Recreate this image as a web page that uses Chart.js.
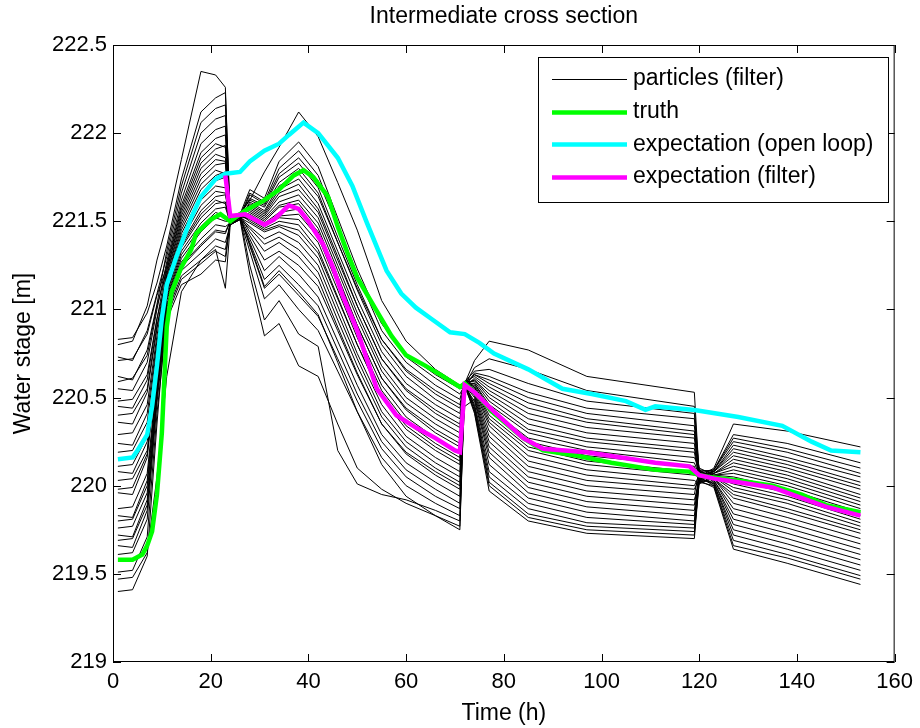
<!DOCTYPE html>
<html>
<head>
<meta charset="utf-8">
<title>Intermediate cross section</title>
<script src="https://cdn.jsdelivr.net/npm/chart.js@4.4.1/dist/chart.umd.min.js"></script>
<style>
  html, body { margin: 0; padding: 0; background: #fff; }
  canvas { display: block; }
</style>
</head>
<body>
<canvas id="chart" width="920" height="728"></canvas>
<script>
// ---- data ----
const chartTitle = 'Intermediate cross section';
const xTicks = [0, 20, 40, 60, 80, 100, 120, 140, 160];
const yTicks = [219, 219.5, 220, 220.5, 221, 221.5, 222, 222.5];
const seriesNames = ['particles (filter)', 'truth', 'expectation (open loop)', 'expectation (filter)'];

// particle trajectories, split at the filter updates (t = 23, 71, 119)
const riseTimes = [1, 4, 7, 9, 11, 14, 18, 21, 23];
const secondTimes = [24, 26, 28, 31, 34, 38, 42, 46, 50, 55, 60, 66, 71];
const thirdTimes = [72, 74, 77, 85, 97, 119];
const lastTimes = [120, 123, 127, 138, 153];

const riseParticles = [
  [220.83, 220.84, 220.98, 221.15, 221.36, 221.74, 222.12, 222.20, 222.23],
  [220.80, 220.82, 221.02, 221.28, 221.48, 221.85, 222.35, 222.33, 222.26],
  [220.73, 220.71, 220.88, 221.09, 221.30, 221.66, 222.00, 222.08, 222.10],
  [220.71, 220.72, 220.86, 221.08, 221.24, 221.57, 221.86, 221.94, 221.92],
  [220.62, 220.60, 220.77, 221.03, 221.33, 221.70, 222.06, 222.14, 222.16],
  [220.59, 220.61, 220.74, 221.02, 221.22, 221.53, 221.80, 221.88, 221.86],
  [220.55, 220.54, 220.70, 221.00, 221.27, 221.62, 221.94, 222.02, 222.04],
  [220.48, 220.49, 220.63, 220.95, 221.17, 221.47, 221.71, 221.79, 221.77],
  [220.45, 220.44, 220.60, 220.94, 221.25, 221.59, 221.89, 221.97, 221.99],
  [220.40, 220.41, 220.55, 220.91, 221.13, 221.41, 221.62, 221.70, 221.69],
  [220.36, 220.35, 220.53, 220.89, 221.22, 221.55, 221.83, 221.91, 221.93],
  [220.29, 220.30, 220.46, 220.85, 221.20, 221.51, 221.77, 221.85, 221.84],
  [220.24, 220.23, 220.41, 220.82, 221.09, 221.36, 221.54, 221.62, 221.60],
  [220.19, 220.20, 220.36, 220.79, 221.19, 221.49, 221.74, 221.82, 221.83],
  [220.11, 220.12, 220.28, 220.75, 221.16, 221.45, 221.68, 221.76, 221.78],
  [220.08, 220.07, 220.25, 220.73, 221.06, 221.31, 221.47, 221.55, 221.53],
  [220.03, 220.04, 220.20, 220.70, 221.14, 221.43, 221.65, 221.73, 221.75],
  [219.98, 219.99, 220.18, 220.67, 221.12, 221.39, 221.59, 221.67, 221.66],
  [219.96, 219.95, 220.16, 220.66, 221.03, 221.27, 221.40, 221.48, 221.47],
  [219.87, 219.88, 220.07, 220.61, 221.10, 221.37, 221.56, 221.64, 221.65],
  [219.83, 219.82, 220.03, 220.59, 220.99, 221.22, 221.32, 221.40, 221.38],
  [219.80, 219.81, 220.00, 220.57, 221.09, 221.35, 221.52, 221.60, 221.61],
  [219.76, 219.77, 219.96, 220.55, 220.96, 221.17, 221.26, 221.33, 221.30],
  [219.72, 219.71, 219.92, 220.53, 221.07, 221.33, 221.49, 221.57, 221.58],
  [219.69, 219.70, 219.89, 220.51, 221.05, 221.29, 221.44, 221.52, 221.50],
  [219.66, 219.65, 219.86, 220.50, 221.01, 221.24, 221.36, 221.44, 221.43],
  [219.61, 219.62, 219.81, 220.47, 220.98, 221.19, 221.28, 221.36, 221.34],
  [219.51, 219.52, 219.71, 220.41, 220.94, 221.14, 221.20, 221.28, 221.27],
  [219.47, 219.48, 219.62, 220.05, 220.62, 221.10, 221.28, 221.34, 221.12],
  [219.40, 219.41, 219.60, 220.35, 221.02, 221.25, 221.37, 221.45, 221.44]
];

const secondParticles = [
  [221.52, 221.55, 221.62, 221.78, 221.92, 222.12, 221.98, 221.72, 221.45, 221.05, 220.82, 220.66, 220.57],
  [221.50, 221.54, 221.68, 221.63, 221.84, 221.95, 221.81, 221.52, 221.23, 220.92, 220.73, 220.61, 220.52],
  [221.51, 221.53, 221.66, 221.61, 221.80, 221.90, 221.76, 221.48, 221.20, 220.88, 220.70, 220.57, 220.49],
  [221.49, 221.52, 221.65, 221.60, 221.77, 221.86, 221.73, 221.47, 221.20, 220.92, 220.75, 220.63, 220.55],
  [221.50, 221.53, 221.63, 221.59, 221.75, 221.83, 221.69, 221.41, 221.14, 220.83, 220.65, 220.52, 220.44],
  [221.52, 221.54, 221.62, 221.58, 221.72, 221.80, 221.66, 221.38, 221.11, 220.80, 220.62, 220.49, 220.41],
  [221.48, 221.51, 221.61, 221.56, 221.70, 221.77, 221.64, 221.38, 221.12, 220.83, 220.66, 220.54, 220.46],
  [221.50, 221.52, 221.60, 221.55, 221.68, 221.74, 221.60, 221.33, 221.06, 220.76, 220.58, 220.46, 220.38],
  [221.51, 221.53, 221.59, 221.54, 221.66, 221.71, 221.57, 221.30, 221.02, 220.72, 220.54, 220.41, 220.33],
  [221.49, 221.52, 221.58, 221.53, 221.64, 221.68, 221.55, 221.28, 221.02, 220.72, 220.55, 220.43, 220.35],
  [221.50, 221.53, 221.57, 221.52, 221.61, 221.65, 221.52, 221.25, 220.98, 220.68, 220.50, 220.38, 220.30],
  [221.51, 221.54, 221.56, 221.51, 221.59, 221.62, 221.49, 221.22, 220.95, 220.65, 220.47, 220.35, 220.27],
  [221.49, 221.52, 221.55, 221.50, 221.58, 221.60, 221.46, 221.19, 220.91, 220.61, 220.43, 220.30, 220.22],
  [221.50, 221.53, 221.54, 221.49, 221.55, 221.57, 221.44, 221.17, 220.91, 220.61, 220.44, 220.32, 220.24],
  [221.51, 221.53, 221.53, 221.48, 221.53, 221.54, 221.41, 221.14, 220.87, 220.57, 220.39, 220.27, 220.19],
  [221.49, 221.52, 221.52, 221.47, 221.52, 221.51, 221.38, 221.11, 220.84, 220.54, 220.36, 220.24, 220.16],
  [221.50, 221.53, 221.51, 221.46, 221.50, 221.48, 221.34, 221.07, 220.80, 220.50, 220.32, 220.20, 220.12],
  [221.51, 221.54, 221.50, 221.45, 221.48, 221.45, 221.32, 221.06, 220.80, 220.51, 220.34, 220.22, 220.14],
  [221.49, 221.52, 221.49, 221.44, 221.47, 221.42, 221.29, 221.02, 220.75, 220.46, 220.28, 220.16, 220.08],
  [221.50, 221.52, 221.47, 221.40, 221.44, 221.38, 221.25, 220.98, 220.72, 220.42, 220.25, 220.13, 220.05],
  [221.48, 221.51, 221.46, 221.37, 221.41, 221.34, 221.21, 220.94, 220.68, 220.39, 220.22, 220.10, 220.02],
  [221.50, 221.53, 221.44, 221.33, 221.38, 221.30, 221.17, 220.90, 220.64, 220.35, 220.18, 220.06, 219.98],
  [221.51, 221.52, 221.42, 221.28, 221.33, 221.25, 221.13, 220.88, 220.63, 220.35, 220.19, 220.08, 220.00],
  [221.49, 221.51, 221.40, 221.22, 221.30, 221.20, 221.07, 220.82, 220.57, 220.29, 220.13, 220.02, 219.94],
  [221.50, 221.52, 221.38, 221.17, 221.25, 221.14, 221.02, 220.77, 220.52, 220.25, 220.09, 219.98, 219.90],
  [221.50, 221.53, 221.36, 221.12, 221.20, 221.08, 220.96, 220.72, 220.48, 220.21, 220.05, 219.94, 219.87],
  [221.49, 221.51, 221.33, 221.06, 221.14, 221.00, 220.88, 220.65, 220.42, 220.16, 220.00, 219.90, 219.83],
  [221.50, 221.52, 221.25, 220.94, 221.05, 220.86, 220.79, 220.20, 220.01, 219.95, 219.92, 219.86, 219.80],
  [221.48, 221.51, 221.20, 220.85, 220.92, 220.68, 220.62, 220.35, 220.10, 219.98, 219.90, 219.83, 219.77],
  [221.50, 221.52, 221.37, 221.13, 221.22, 221.10, 220.97, 220.70, 220.42, 220.12, 219.94, 219.83, 219.75]
];

const thirdParticles = [
  [220.58, 220.71, 220.82, 220.77, 220.62, 220.53],
  [220.57, 220.67, 220.72, 220.66, 220.54, 220.45],
  [220.59, 220.65, 220.66, 220.58, 220.48, 220.41],
  [220.56, 220.64, 220.62, 220.53, 220.44, 220.38],
  [220.58, 220.63, 220.60, 220.50, 220.41, 220.34],
  [220.57, 220.63, 220.58, 220.47, 220.38, 220.31],
  [220.59, 220.62, 220.56, 220.44, 220.36, 220.29],
  [220.56, 220.61, 220.54, 220.41, 220.33, 220.27],
  [220.58, 220.60, 220.52, 220.38, 220.30, 220.24],
  [220.57, 220.60, 220.50, 220.35, 220.27, 220.21],
  [220.59, 220.59, 220.48, 220.32, 220.25, 220.19],
  [220.56, 220.58, 220.46, 220.30, 220.22, 220.16],
  [220.58, 220.58, 220.44, 220.27, 220.20, 220.13],
  [220.57, 220.57, 220.42, 220.25, 220.17, 220.11],
  [220.59, 220.56, 220.40, 220.22, 220.14, 220.08],
  [220.56, 220.56, 220.38, 220.20, 220.12, 220.06],
  [220.58, 220.55, 220.36, 220.17, 220.09, 220.03],
  [220.57, 220.54, 220.34, 220.14, 220.06, 220.00],
  [220.59, 220.53, 220.31, 220.11, 220.03, 219.98],
  [220.56, 220.52, 220.28, 220.08, 220.00, 219.95],
  [220.58, 220.51, 220.25, 220.05, 219.97, 219.92],
  [220.57, 220.50, 220.22, 220.02, 219.94, 219.89],
  [220.45, 220.49, 220.19, 219.99, 219.91, 219.86],
  [220.56, 220.48, 220.16, 219.96, 219.88, 219.83],
  [220.58, 220.46, 220.12, 219.93, 219.85, 219.80],
  [220.57, 220.45, 220.08, 219.90, 219.82, 219.78],
  [220.59, 220.44, 220.05, 219.87, 219.79, 219.76],
  [220.56, 220.43, 220.02, 219.84, 219.77, 219.74],
  [220.58, 220.42, 220.00, 219.82, 219.75, 219.72],
  [220.57, 220.41, 219.97, 219.80, 219.73, 219.70]
];

const lastParticles = [
  [220.05, 220.10, 220.35, 220.31, 220.22],
  [220.07, 220.09, 220.29, 220.24, 220.13],
  [220.03, 220.09, 220.27, 220.21, 220.10],
  [220.08, 220.09, 220.25, 220.19, 220.07],
  [220.04, 220.08, 220.23, 220.16, 220.05],
  [220.06, 220.08, 220.21, 220.14, 220.02],
  [220.09, 220.08, 220.19, 220.12, 220.00],
  [220.05, 220.08, 220.17, 220.10, 219.98],
  [220.02, 220.07, 220.15, 220.08, 219.95],
  [220.07, 220.07, 220.13, 220.06, 219.93],
  [220.04, 220.07, 220.11, 220.04, 219.91],
  [220.10, 220.06, 220.09, 220.02, 219.89],
  [220.06, 220.06, 220.07, 220.00, 219.87],
  [220.03, 220.06, 220.05, 219.98, 219.85],
  [220.08, 220.05, 220.03, 219.96, 219.83],
  [220.05, 220.05, 220.01, 219.94, 219.81],
  [220.01, 220.05, 219.99, 219.92, 219.79],
  [220.06, 220.05, 219.97, 219.90, 219.77],
  [220.04, 220.04, 219.95, 219.87, 219.75],
  [220.09, 220.04, 219.93, 219.85, 219.73],
  [220.02, 220.04, 219.90, 219.82, 219.70],
  [220.07, 220.03, 219.87, 219.79, 219.67],
  [220.05, 220.03, 219.84, 219.76, 219.64],
  [220.03, 220.02, 219.81, 219.73, 219.61],
  [220.08, 220.02, 219.78, 219.70, 219.58],
  [220.04, 220.01, 219.75, 219.67, 219.55],
  [220.06, 220.01, 219.72, 219.64, 219.52],
  [220.02, 220.00, 219.69, 219.61, 219.49],
  [220.05, 220.00, 219.66, 219.59, 219.47],
  [220.03, 219.99, 219.64, 219.56, 219.44]
];

const truthTimes = [1, 4, 6, 7, 8, 9, 10, 11, 12, 14, 16, 17, 20, 22, 24, 26, 27, 31, 34, 37, 39, 41, 44, 46, 48,
  50, 54, 57, 60, 64, 67, 71, 72, 74, 78, 84, 88, 95, 102, 111, 118, 120, 122, 128, 135, 141, 146, 153];
const truthValues = [219.58, 219.58, 219.61, 219.66, 219.74, 219.95, 220.30, 220.90, 221.10, 221.24, 221.34, 221.43,
  221.51, 221.54, 221.50, 221.54, 221.56, 221.62, 221.68, 221.76, 221.79, 221.75, 221.64, 221.47, 221.32,
  221.18, 220.99, 220.85, 220.74, 220.68, 220.63, 220.56, 220.58, 220.53, 220.41, 220.27, 220.20, 220.17,
  220.13, 220.09, 220.08, 220.06, 220.05, 220.03, 220.00, 219.95, 219.89, 219.85];

const openLoopTimes = [1, 4, 5, 7, 8, 9, 10, 11, 13, 16, 18, 21, 23, 26, 28, 31, 34, 36, 39, 42, 46, 49, 52, 56, 59,
  62, 65, 69, 72, 75, 78, 85, 92, 98, 105, 109, 111, 119, 128, 137, 143, 147, 153];
const openLoopValues = [220.15, 220.16, 220.20, 220.29, 220.45, 220.68, 220.95, 221.14, 221.30, 221.52, 221.64,
  221.74, 221.77, 221.78, 221.84, 221.90, 221.94, 221.99, 222.06, 222.00, 221.86, 221.70, 221.49, 221.22,
  221.09, 221.01, 220.95, 220.87, 220.86, 220.81, 220.75, 220.66, 220.55, 220.52, 220.48, 220.43, 220.45,
  220.43, 220.39, 220.34, 220.25, 220.20, 220.19];

const filterTimes = [23, 24, 27, 31, 33, 36, 38, 40, 43, 45, 47, 50, 54, 58, 62, 66, 70, 71, 72, 74, 78, 84, 88, 97,
  104, 111, 118, 120, 123, 128, 135, 141, 146, 153];
const filterValues = [221.76, 221.53, 221.54, 221.48, 221.51, 221.59, 221.57, 221.50, 221.37, 221.24, 221.08,
  220.88, 220.55, 220.40, 220.33, 220.27, 220.20, 220.19, 220.57, 220.53, 220.42, 220.27, 220.21, 220.19,
  220.16, 220.13, 220.11, 220.06, 220.04, 220.02, 219.99, 219.93, 219.88, 219.83];

// ---- build datasets ----
const pts = (times, vals) => times.map((t, k) => ({ x: t, y: vals[k] }));

const FONT = '"Liberation Sans", Arial, Helvetica, sans-serif';
const colors = ['#000000', '#00ff00', '#00ffff', '#ff00ff'];

const particleSets = riseParticles.map((row, i) => ({
  label: seriesNames[0],
  data: [
    ...pts(riseTimes, row),
    ...pts(secondTimes, secondParticles[i]),
    ...pts(thirdTimes, thirdParticles[i]),
    ...pts(lastTimes, lastParticles[i])
  ],
  borderColor: colors[0],
  borderWidth: 1,
  order: 4
}));

const datasets = [
  ...particleSets,
  { label: seriesNames[1], data: pts(truthTimes, truthValues), borderColor: colors[1], borderWidth: 4.5, order: 3 },
  { label: seriesNames[2], data: pts(openLoopTimes, openLoopValues), borderColor: colors[2], borderWidth: 4.5, order: 2 },
  { label: seriesNames[3], data: pts(filterTimes, filterValues), borderColor: colors[3], borderWidth: 4.5, order: 1 }
];

// MATLAB-like box, inward ticks, title and legend
const matlabBox = {
  id: 'matlabBox',
  afterDraw(chart) {
    const { ctx, chartArea: a, scales } = chart;
    ctx.save();
    ctx.strokeStyle = '#000';
    ctx.lineWidth = 1;
    ctx.beginPath();
    scales.x.ticks.forEach(t => {
      const px = Math.round(scales.x.getPixelForValue(t.value)) + 0.5;
      ctx.moveTo(px, a.bottom); ctx.lineTo(px, a.bottom - 8);
      ctx.moveTo(px, a.top); ctx.lineTo(px, a.top + 8);
    });
    scales.y.ticks.forEach(t => {
      const py = Math.round(scales.y.getPixelForValue(t.value)) + 0.5;
      ctx.moveTo(a.left, py); ctx.lineTo(a.left + 8, py);
      ctx.moveTo(a.right, py); ctx.lineTo(a.right - 8, py);
    });
    ctx.stroke();
    ctx.strokeRect(a.left + 0.5, a.top + 0.5, a.right - a.left - 1, a.bottom - a.top - 1);

    ctx.fillStyle = '#000';
    ctx.font = '23px ' + FONT;
    ctx.textAlign = 'center';
    ctx.textBaseline = 'middle';
    ctx.fillText(chartTitle, (a.left + a.right) / 2, 17);

    // legend box
    const lx = 538, ly = 57, lw = 350, lh = 145;
    ctx.fillStyle = '#fff';
    ctx.fillRect(lx, ly, lw, lh);
    ctx.strokeRect(lx + 0.5, ly + 0.5, lw, lh);
    ctx.textAlign = 'left';
    seriesNames.forEach((name, i) => {
      const y = 79 + i * 32.7;
      ctx.beginPath();
      ctx.strokeStyle = colors[i];
      ctx.lineWidth = i === 0 ? 1 : 4.5;
      ctx.moveTo(552, Math.round(y) + 0.5);
      ctx.lineTo(627, Math.round(y) + 0.5);
      ctx.stroke();
      ctx.fillStyle = '#000';
      ctx.fillText(name, 633, y);
    });
    ctx.restore();
  }
};

const tickFont = { family: FONT, size: 22 };
const labelFont = { family: FONT, size: 23 };

new Chart(document.getElementById('chart'), {
  type: 'line',
  data: { datasets },
  options: {
    responsive: false,
    animation: false,
    layout: { padding: { top: 45, right: 22, bottom: 0, left: 0 } },
    elements: { point: { radius: 0 }, line: { tension: 0 } },
    plugins: {
      legend: { display: false },
      tooltip: { enabled: false },
      title: { display: false }
    },
    scales: {
      x: {
        type: 'linear',
        min: 0,
        max: 160,
        afterBuildTicks: s => { s.ticks = xTicks.map(v => ({ value: v })); },
        afterFit: s => { s.height = 66; },
        ticks: { color: '#000', font: tickFont, padding: 7, maxRotation: 0, autoSkip: false, callback: v => String(v) },
        grid: { display: false, drawTicks: false },
        border: { display: false },
        title: { display: true, text: 'Time (h)', color: '#000', font: labelFont, padding: { top: 0, bottom: 1 } }
      },
      y: {
        type: 'linear',
        min: 219,
        max: 222.5,
        afterBuildTicks: s => { s.ticks = yTicks.map(v => ({ value: v })); },
        afterFit: s => { s.width = 113; },
        ticks: { color: '#000', font: tickFont, padding: 6, autoSkip: false, callback: v => String(v) },
        grid: { display: false, drawTicks: false },
        border: { display: false },
        title: { display: true, text: 'Water stage [m]', color: '#000', font: labelFont, padding: { top: 10, bottom: 0 } }
      }
    }
  },
  plugins: [matlabBox]
});
</script>
</body>
</html>
